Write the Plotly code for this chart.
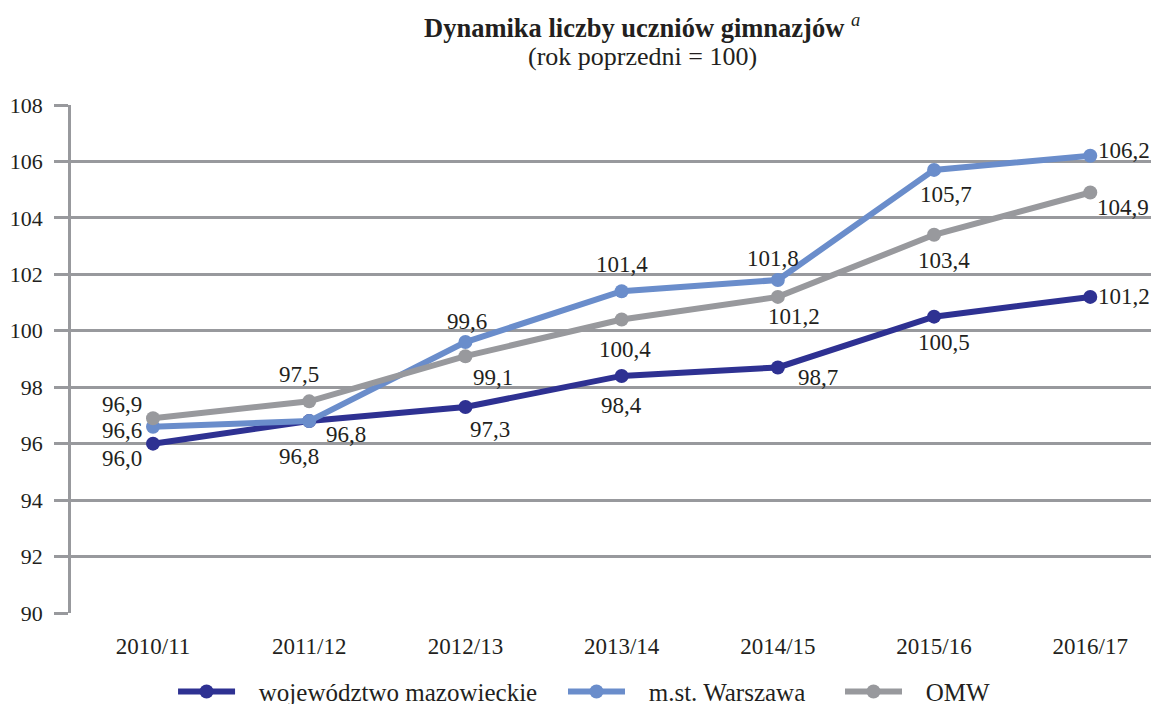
import plotly.graph_objects as go

lata = ['2010/11', '2011/12', '2012/13', '2013/14', '2014/15', '2015/16', '2016/17']

mazowieckie = [96.0, 96.8, 97.3, 98.4, 98.7, 100.5, 101.2]
warszawa = [96.6, 96.8, 99.6, 101.4, 101.8, 105.7, 106.2]
omw = [96.9, 97.5, 99.1, 100.4, 101.2, 103.4, 104.9]

# przesunięcia etykiet (px: w prawo, w dół)
off_maz = [(-31, 15), (-10, 35), (25, 23), (0, 30), (40, 10), (10, 26), (34, 0)]
off_wwa = [(-31, 4), (37, 13), (2, -21), (0, -27), (-5, -21), (12, 25), (34, -5)]
off_omw = [(-31, -14), (-10, -27), (28, 21), (3, 30), (16, 20), (10, 26), (33, 15)]

FONT = 'Liberation Serif'
TXT = '#231F20'
GRID = '#98999D'
NB = '\u00a0'

fig = go.Figure()
for name, leg, vals, offs, col in [
    ('województwo mazowieckie', 'legend', mazowieckie, off_maz, '#2E3192'),
    ('m.st. Warszawa', 'legend2', warszawa, off_wwa, '#6A8DCB'),
    ('OMW', 'legend3', omw, off_omw, '#98999D'),
]:
    fig.add_trace(go.Scatter(
        x=lata, y=vals, name=NB * 3 + name, mode='lines+markers', legend=leg,
        line=dict(color=col, width=6),
        marker=dict(color=col, size=14),
    ))
    for x, v, (dx, dy) in zip(lata, vals, offs):
        fig.add_annotation(x=x, y=v, text=f'{v:.1f}'.replace('.', ','), showarrow=False,
                           xshift=dx, yshift=-dy,
                           font=dict(family=FONT, size=23, color=TXT))

# linia odniesienia 100
fig.add_hline(y=100, line=dict(color='#2E3192', width=2.5), layer='below')

fig.add_annotation(x=0.525, y=1.0, xref='paper', yref='paper', yshift=98, showarrow=False,
                   text='<b>Dynamika liczby uczniów gimnazjów</b> <sup><i>a</i></sup>',
                   font=dict(family=FONT, size=26.5, color=TXT))
fig.add_annotation(x=0.525, y=1.0, xref='paper', yref='paper', yshift=65, showarrow=False,
                   text='(rok poprzedni = 100)',
                   font=dict(family=FONT, size=26, color=TXT))

leg_style = dict(orientation='h', xanchor='left', y=-0.155, yanchor='middle',
                 font=dict(family=FONT, size=25, color=TXT), itemwidth=57,
                 bgcolor='rgba(0,0,0,0)')

fig.update_layout(
    width=1151, height=696,
    margin=dict(l=63, r=0, t=97, b=91, autoexpand=False),
    plot_bgcolor='white', paper_bgcolor='white',
    font=dict(family=FONT, size=23, color=TXT),
    showlegend=True,
    legend=dict(x=0.0938, **leg_style),
    legend2=dict(x=0.4522, **leg_style),
    legend3=dict(x=0.7068, **leg_style),
)
fig.update_yaxes(range=[90, 108], dtick=2, showgrid=True, gridcolor=GRID, gridwidth=2.5,
                 zeroline=False, showline=True, linecolor=GRID, linewidth=2.5,
                 ticks='outside', ticklen=14, tickcolor=GRID, tickwidth=2.5,
                 ticklabelstandoff=7,
                 tickfont=dict(family=FONT, size=22, color=TXT))
fig.update_xaxes(range=[-0.525, 6.44], showgrid=False, zeroline=False, showline=False,
                 ticks='outside', ticklen=12, tickcolor='rgba(0,0,0,0)',
                 tickfont=dict(family=FONT, size=23, color=TXT))

fig.write_html('out.html')
